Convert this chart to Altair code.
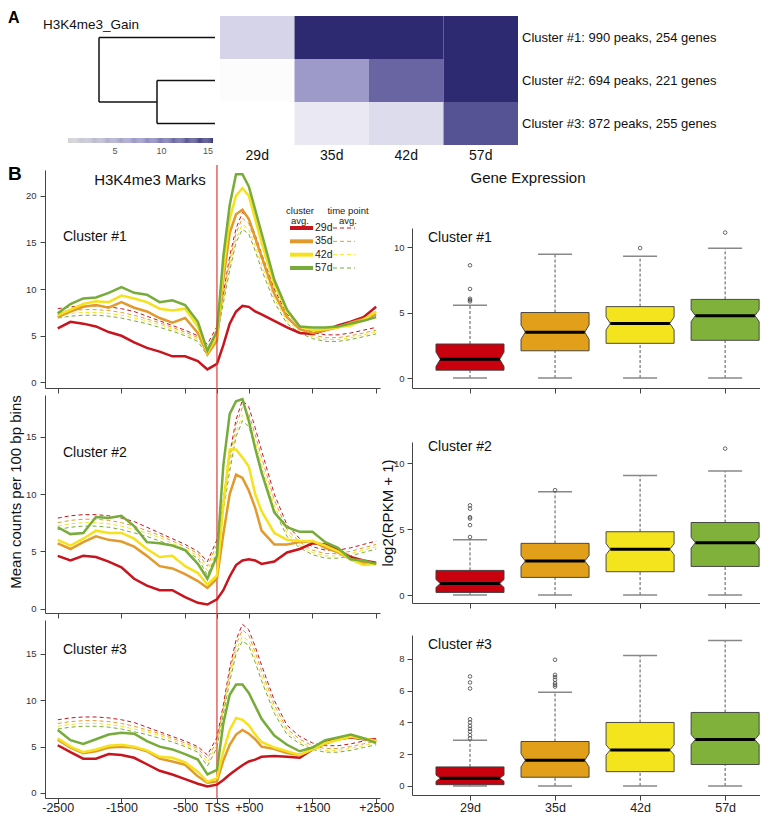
import altair as alt
import numpy as np
import pandas as pd

W, H = 752, 806
FONT = "Liberation Sans"

# ---------------- shared categories / colours ----------------
TIME_POINTS = ["29d", "35d", "42d", "57d"]
LINE_COLORS = ["#c8141c", "#e39a2d", "#f5e21c", "#77ab3a"]
BOX_COLORS = ["#c9000e", "#e2a01a", "#f4e41e", "#80b23b"]

# ---------------- panel A ----------------
CLUSTERS = ["Cluster #1", "Cluster #2", "Cluster #3"]
CLUSTER_INFO = ["Cluster #1: 990 peaks, 254 genes",
                "Cluster #2: 694 peaks, 221 genes",
                "Cluster #3: 872 peaks, 255 genes"]
HEAT_29D = [3.0, 0.2, 0.0]
HEAT_35D = [15.6, 7.0, 1.6]
HEAT_42D = [15.6, 11.0, 2.4]
HEAT_57D = [15.6, 15.6, 12.4]
COLORBAR_TICKS = [5, 10, 15]

# dendrogram segments: merge height (h1 -> h2), cluster index (y1 -> y2)
DENDRO_H1 = [0, 2, 2, 1, 0, 0]
DENDRO_H2 = [2, 2, 1, 1, 1, 1]
DENDRO_Y1 = [0, 0, 1.5, 1, 1, 2]
DENDRO_Y2 = [0, 1.5, 1.5, 2, 1, 2]

# ---------------- panel B: profiles ----------------
BP = [-2500, -2300, -2100, -1900, -1700, -1500, -1300, -1100, -900, -700, -500, -300, -150, 0,
      100, 200, 300, 400, 500, 600, 700, 900, 1100, 1300, 1500, 1700, 1900, 2100, 2300, 2500]
XTICK_VALUES = [-2500, -1500, -500, 0, 500, 1500, 2500]
XTICK_TEXT = ["-2500", "-1500", "-500", "TSS", "+500", "+1500", "+2500"]

# time point averages (dashed, same in every cluster panel)
TP_29D = [7.9, 8.1, 8.2, 8.2, 8.1, 7.9, 7.6, 7.1, 6.6, 6.1, 5.6, 5.0, 4.1, 6.0, 9.5, 13.5, 16.5, 18.2, 17.6, 15.8, 13.8, 10.0, 7.3, 6.1, 5.4, 5.1, 5.1, 5.3, 5.6, 5.9]
TP_35D = [7.5, 7.7, 7.8, 7.8, 7.7, 7.5, 7.2, 6.8, 6.4, 5.9, 5.4, 4.8, 3.7, 5.6, 9.2, 13.0, 16.0, 17.6, 17.0, 15.2, 13.2, 9.5, 6.9, 5.8, 5.1, 4.8, 4.8, 5.0, 5.3, 5.6]
TP_42D = [7.2, 7.4, 7.5, 7.5, 7.4, 7.2, 6.9, 6.6, 6.2, 5.7, 5.2, 4.6, 3.3, 5.2, 8.8, 12.5, 15.4, 16.9, 16.4, 14.6, 12.6, 9.0, 6.6, 5.5, 4.9, 4.6, 4.6, 4.8, 5.1, 5.4]
TP_57D = [6.9, 7.1, 7.2, 7.2, 7.1, 6.9, 6.6, 6.3, 5.9, 5.5, 5.0, 4.4, 2.9, 4.9, 8.5, 12.0, 15.0, 16.4, 15.9, 14.1, 12.1, 8.6, 6.3, 5.3, 4.7, 4.4, 4.4, 4.6, 4.9, 5.2]

# cluster averages (solid)
C1_29D = [5.8, 6.5, 6.3, 6.0, 5.4, 5.0, 4.3, 3.7, 3.3, 2.8, 2.8, 2.3, 1.4, 2.0, 4.0, 6.3, 7.6, 8.2, 8.1, 7.6, 7.3, 6.6, 5.9, 5.3, 5.2, 5.6, 6.1, 6.5, 7.0, 8.1]
C1_35D = [7.0, 7.6, 8.1, 8.3, 8.0, 8.6, 8.0, 7.6, 6.9, 6.4, 6.9, 5.3, 3.0, 4.5, 11.0, 16.0, 18.0, 18.5, 17.5, 15.5, 13.5, 9.5, 7.0, 5.7, 5.3, 5.6, 5.9, 6.4, 6.8, 7.3]
C1_42D = [7.2, 7.8, 8.4, 8.7, 8.6, 9.3, 9.0, 8.6, 7.9, 7.7, 7.9, 6.0, 3.2, 5.0, 12.0, 17.5, 20.0, 20.8, 20.0, 17.5, 15.0, 10.5, 7.6, 6.0, 5.6, 5.7, 5.9, 6.1, 6.7, 7.6]
C1_57D = [7.4, 8.4, 9.0, 9.1, 9.6, 10.2, 9.6, 9.4, 8.6, 8.8, 8.3, 6.5, 3.4, 5.5, 13.5, 19.0, 22.3, 22.3, 21.0, 18.5, 16.0, 11.0, 7.8, 6.0, 5.9, 5.9, 6.0, 6.3, 6.6, 7.0]

C2_29D = [4.6, 4.2, 4.6, 4.5, 4.1, 3.6, 2.6, 2.0, 1.6, 1.6, 1.0, 0.5, 0.35, 0.8, 1.6, 2.8, 3.8, 4.2, 4.3, 4.2, 3.9, 4.1, 4.9, 5.2, 5.7, 5.6, 5.1, 4.5, 4.2, 4.0]
C2_35D = [5.7, 5.2, 5.8, 6.3, 6.0, 5.85, 5.4, 4.6, 3.7, 3.5, 3.0, 2.4, 1.8, 2.6, 6.5, 10.0, 11.7, 11.4, 10.3, 8.8, 6.8, 5.6, 5.6, 5.8, 5.9, 5.3, 4.9, 4.3, 4.0, 3.9]
C2_42D = [6.0, 5.5, 6.1, 6.8, 6.6, 6.6, 6.1, 5.2, 4.5, 4.6, 3.7, 3.1, 2.1, 2.9, 9.0, 13.9, 13.9, 13.2, 12.4, 10.0, 8.5, 6.6, 6.0, 5.9, 5.9, 5.5, 5.0, 4.3, 3.8, 3.9]
C2_57D = [7.1, 6.5, 6.6, 8.0, 7.9, 8.1, 7.2, 5.8, 5.7, 5.5, 5.1, 3.9, 2.6, 4.6, 12.5, 17.0, 18.1, 18.3, 16.4, 14.0, 11.9, 8.4, 7.1, 6.7, 6.7, 5.8, 5.3, 4.3, 4.2, 3.9]

C3_29D = [5.15, 4.4, 3.7, 3.7, 4.2, 4.1, 3.8, 3.1, 2.4, 2.0, 1.5, 1.0, 0.7, 0.9, 1.4, 2.0, 2.5, 3.0, 3.4, 3.6, 3.9, 4.0, 3.9, 3.8, 4.7, 5.5, 5.8, 6.0, 5.8, 5.75]
C3_35D = [5.75, 4.9, 4.3, 4.5, 4.9, 5.0, 4.9, 4.5, 3.7, 3.4, 3.05, 1.8, 1.1, 1.25, 3.5, 5.2, 6.3, 6.8, 6.4, 5.8, 5.0, 4.75, 4.3, 4.1, 4.7, 5.3, 5.8, 6.1, 5.8, 5.6]
C3_42D = [5.9, 5.0, 4.4, 4.7, 5.1, 5.2, 5.0, 4.6, 3.9, 3.8, 3.3, 2.3, 1.2, 1.6, 4.5, 6.8, 8.1, 7.9, 7.3, 6.3, 5.5, 4.9, 4.5, 4.1, 4.7, 5.4, 5.7, 6.1, 5.9, 5.6]
C3_57D = [6.8, 5.7, 5.3, 5.8, 6.3, 6.5, 6.4, 5.6, 5.0, 4.7, 4.2, 3.6, 2.0, 2.5, 7.5, 10.6, 11.7, 11.7, 10.8, 9.4, 8.0, 6.2, 5.2, 4.5, 4.9, 5.7, 6.0, 6.3, 5.9, 5.4]

# ---------------- panel B: gene expression boxes ----------------
C1_LO = [0, 0, 0, 0]
C1_Q1 = [0.6, 2.08, 2.65, 2.88]
C1_MED = [1.43, 3.5, 4.17, 4.76]
C1_Q3 = [2.6, 5.0, 5.45, 6.0]
C1_HI = [5.55, 9.45, 9.3, 9.9]
C1_NOTCH = [0.55, 0.55, 0.5, 0.45]
C1_OUT_TP = ["29d", "29d", "29d", "29d", "29d", "42d", "57d"]
C1_OUT_VAL = [5.85, 5.95, 6.05, 6.8, 8.6, 9.92, 11.1]

C2_LO = [0, 0, 0, 0]
C2_Q1 = [0.2, 1.34, 1.77, 2.17]
C2_MED = [0.88, 2.58, 3.48, 3.97]
C2_Q3 = [1.87, 3.92, 4.8, 5.5]
C2_HI = [4.2, 7.83, 9.07, 9.4]
C2_NOTCH = [0.3, 0.42, 0.42, 0.42]
C2_OUT_TP = ["29d", "29d", "29d", "29d", "29d", "29d", "35d", "57d"]
C2_OUT_VAL = [4.4, 5.3, 5.8, 5.9, 6.55, 6.8, 7.95, 11.1]

C3_LO = [0, 0, 0, 0]
C3_Q1 = [0.08, 0.55, 0.9, 1.35]
C3_MED = [0.49, 1.62, 2.27, 2.92]
C3_Q3 = [1.2, 2.8, 4.0, 4.63]
C3_HI = [2.88, 5.91, 8.22, 9.17]
C3_NOTCH = [0.2, 0.42, 0.32, 0.32]
C3_OUT_TP = ["29d"] * 10 + ["35d"] * 7
C3_OUT_VAL = [3.0, 3.2, 3.43, 3.6, 3.78, 4.0, 4.2, 6.14, 6.52, 6.9,
              6.26, 6.37, 6.48, 6.69, 6.86, 7.0, 7.95]


def qs(domain, rng):
    return alt.Scale(domain=domain, range=rng, nice=False, zero=False)


def text(t, x, y, size, **kw):
    return alt.Chart(pd.DataFrame({"t": [t]})).mark_text(font=FONT, fontSize=size, **kw).encode(
        text="t:N", x=alt.value(x), y=alt.value(y))


# ================= Panel A =================
heat_df = pd.DataFrame([
    {"cluster": c, "tp": tp, "value": vals[i]}
    for tp, vals in zip(TIME_POINTS, [HEAT_29D, HEAT_35D, HEAT_42D, HEAT_57D])
    for i, c in enumerate(CLUSTERS)
])
heat_x = alt.X("tp:N", scale=alt.Scale(domain=TIME_POINTS, range=[212, 510], paddingInner=0, paddingOuter=0),
               axis=alt.Axis(orient="bottom", offset=137 - H, domain=False, ticks=False, labelAngle=0,
                             labelFontSize=14, labelPadding=3, labelColor="#111", title=None))
heat_y = alt.Y("cluster:N", scale=alt.Scale(domain=CLUSTERS, range=[8, 137], paddingInner=0, paddingOuter=0),
               axis=None)
heat = alt.Chart(heat_df).mark_rect().encode(
    x=heat_x, y=heat_y,
    color=alt.Color("value:Q", scale=alt.Scale(domain=[0, 8, 15.6], range=["#ffffff", "#8f8bc2", "#2d2a72"],
                                               interpolate="rgb", clamp=True), legend=None))
info = alt.Chart(pd.DataFrame({"cluster": CLUSTERS, "info": CLUSTER_INFO})).mark_text(
    align="left", baseline="middle", font=FONT, fontSize=13, color="#111").encode(
    y=heat_y, x=alt.value(514), text="info:N")
panel_a = alt.layer(heat, info)

dendro_df = pd.DataFrame({"h1": DENDRO_H1, "h2": DENDRO_H2, "y1": DENDRO_Y1, "y2": DENDRO_Y2})
dendro = alt.Chart(dendro_df).mark_rule(color="#111", strokeWidth=1.5).encode(
    x=alt.X("h1:Q", scale=qs([0, 2], [207, 91]), axis=None), x2="h2:Q",
    y=alt.Y("y1:Q", scale=qs([-0.5, 2.5], [8, 137]), axis=None), y2="y2:Q")

ramp = np.round(np.arange(0, 15.6, 0.1), 2)
cbar_df = pd.DataFrame({"v": ramp, "v2": ramp + 0.1})
colorbar = alt.Chart(cbar_df).mark_rect().encode(
    x=alt.X("v:Q", scale=qs([0, 15.6], [60, 205]),
            axis=alt.Axis(orient="bottom", offset=135 - H, values=COLORBAR_TICKS, domain=False, ticks=False,
                          labelFontSize=9, labelColor="#555", labelPadding=3, labelFlush=False, title=None)),
    x2="v2:Q", y=alt.value(130), y2=alt.value(135),
    color=alt.Color("v:Q", scale=alt.Scale(domain=[0, 8, 15.6], range=["#cfcfd3", "#8f8bc2", "#2d2a72"],
                                           interpolate="rgb"), legend=None))

# ================= Panel B: profiles =================
x_label_expr = "[" + ",".join("'%s'" % t for t in XTICK_TEXT) + "][indexof([" + \
    ",".join(str(v) for v in XTICK_VALUES) + "], datum.value)]"
tp_avg = [TP_29D, TP_35D, TP_42D, TP_57D]


def long_df(series):
    return pd.DataFrame([{"bp": b, "value": v, "tp": tp}
                         for tp, vals in zip(TIME_POINTS, series) for b, v in zip(BP, vals)])


def line_panel(series, y_dom, y_rng, y_ticks, show_labels, with_tss=False):
    x = alt.X("bp:Q", scale=qs([-2700, 2560], [37, 372]),
              axis=alt.Axis(orient="bottom", offset=y_rng[0] - H, values=XTICK_VALUES, labels=show_labels,
                            labelExpr=x_label_expr, tickSize=5, tickColor="#444", domainColor="#444",
                            labelFontSize=12.5, labelColor="#222", labelPadding=8,
                            labelBaseline="alphabetic", labelFlush=False, title=None, grid=False))
    y = alt.Y("value:Q", scale=qs(y_dom, y_rng),
              axis=alt.Axis(orient="left", offset=-37, values=y_ticks, tickSize=5, labelPadding=4,
                            labelFontSize=9.5, labelColor="#333", domainColor="#444", tickColor="#444",
                            title=None, grid=False))
    color = alt.Color("tp:N", scale=alt.Scale(domain=TIME_POINTS, range=LINE_COLORS), legend=None)
    dashed = alt.Chart(long_df(tp_avg)).mark_line(strokeWidth=1, strokeDash=[4, 3]).encode(
        x=x, y=y, color=color)
    solid = alt.Chart(long_df(series)).mark_line(strokeWidth=2.5).encode(x=x, y=y, color=color)
    layers = [dashed, solid]
    if with_tss:
        tss = alt.Chart(pd.DataFrame({"bp": [0]})).mark_rule(color="#d83c3c", strokeWidth=1.2).encode(
            x=x, y=alt.value(157), y2=alt.value(790))
        layers.append(tss)
    return alt.layer(*layers)


line1 = line_panel([C1_29D, C1_35D, C1_42D, C1_57D], [-0.59, 22.75], [380, 162], [0, 5, 10, 15, 20], False, True)
line2 = line_panel([C2_29D, C2_35D, C2_42D, C2_57D], [-0.39, 18.65], [605, 387], [0, 5, 10, 15], False)
line3 = line_panel([C3_29D, C3_35D, C3_42D, C3_57D], [-0.54, 18.66], [790, 612], [0, 5, 10, 15], True)

# legend inside cluster 1 profile
leg_y = alt.Y("tp:N", scale=alt.Scale(type="point", domain=TIME_POINTS, range=[220, 260], padding=0), axis=None)
leg_color = alt.Color("tp:N", scale=alt.Scale(domain=TIME_POINTS, range=LINE_COLORS), legend=None)
leg_df = pd.DataFrame({"tp": TIME_POINTS})
legend = alt.layer(
    alt.Chart(leg_df).mark_rule(strokeWidth=4).encode(x=alt.value(282), x2=alt.value(305), y=leg_y, color=leg_color),
    alt.Chart(leg_df).mark_rule(strokeWidth=1, strokeDash=[4, 3]).encode(
        x=alt.value(325), x2=alt.value(347), y=leg_y, color=leg_color),
    alt.Chart(leg_df).mark_text(align="left", baseline="middle", font=FONT, fontSize=10.5, color="#222").encode(
        x=alt.value(307), y=leg_y, text="tp:N"),
)

# ================= Panel B: boxes =================
box_label_expr = "[" + ",".join("'%s'" % t for t in TIME_POINTS) + "][datum.value - 1]"
BOX_HALF, NOTCH_HALF, CAP_HALF = 0.4, 0.35, 0.2


def box_panel(lo, q1, med, q3, hi, notch, out_tp, out_val, y_dom, y_rng, y_ticks, show_labels):
    xs = qs([0.318, 4.41], [404, 752])
    ys = qs(y_dom, y_rng)
    xaxis = alt.Axis(orient="bottom", offset=y_rng[0] - H, values=[1, 2, 3, 4], labels=show_labels,
                     labelExpr=box_label_expr, tickSize=5, tickColor="#444", domainColor="#444",
                     labelFontSize=12.5, labelColor="#222", labelPadding=11, labelBaseline="alphabetic",
                     labelFlush=False, title=None, grid=False)
    yaxis = alt.Axis(orient="left", offset=-404, values=y_ticks, tickSize=5, labelPadding=3,
                     labelFontSize=9.5, labelColor="#333", domainColor="#444", tickColor="#444",
                     title=None, grid=False)

    def X(f):
        return alt.X(f, type="quantitative", scale=xs, axis=xaxis)

    def Y(f):
        return alt.Y(f, type="quantitative", scale=ys, axis=yaxis)

    poly, whisk, caps, meds = [], [], [], []
    for i, tp in enumerate(TIME_POINTS):
        p = i + 1
        for yv, hw in [(q1[i], BOX_HALF), (med[i] - notch[i], BOX_HALF), (med[i], NOTCH_HALF),
                       (med[i] + notch[i], BOX_HALF), (q3[i], BOX_HALF)]:
            poly.append({"tp": tp, "y": yv, "xl": p - hw, "xr": p + hw})
        whisk += [{"pos": p, "a": q3[i], "b": hi[i]}, {"pos": p, "a": lo[i], "b": q1[i]}]
        caps += [{"cl": p - CAP_HALF, "cr": p + CAP_HALF, "cap": hi[i]},
                 {"cl": p - CAP_HALF, "cr": p + CAP_HALF, "cap": lo[i]}]
        meds.append({"ml": p - NOTCH_HALF, "mr": p + NOTCH_HALF, "med": med[i]})
    outs = pd.DataFrame({"pos": [TIME_POINTS.index(t) + 1 for t in out_tp], "val": out_val})

    w = alt.Chart(pd.DataFrame(whisk)).mark_rule(color="#555", strokeWidth=1, strokeDash=[3, 2]).encode(
        x=X("pos"), y=Y("a"), y2="b:Q")
    c = alt.Chart(pd.DataFrame(caps)).mark_rule(color="#888", strokeWidth=1.5).encode(
        x=X("cl"), x2="cr:Q", y=Y("cap"))
    b = alt.Chart(pd.DataFrame(poly)).mark_area(orient="horizontal", stroke="#3a3a3a", strokeWidth=0.9,
                                                 opacity=1).encode(
        y=Y("y"), x=X("xl"), x2="xr:Q", detail="tp:N",
        color=alt.Color("tp:N", scale=alt.Scale(domain=TIME_POINTS, range=BOX_COLORS), legend=None))
    m = alt.Chart(pd.DataFrame(meds)).mark_rule(color="#000", strokeWidth=3).encode(
        x=X("ml"), x2="mr:Q", y=Y("med"))
    o = alt.Chart(outs).mark_point(shape="circle", filled=False, size=13, color="#444", strokeWidth=0.8,
                                   opacity=1).encode(x=X("pos"), y=Y("val"))
    return alt.layer(w, c, b, m, o)


box1 = box_panel(C1_LO, C1_Q1, C1_MED, C1_Q3, C1_HI, C1_NOTCH, C1_OUT_TP, C1_OUT_VAL,
                 [-0.76, 11.45], [380, 220], [0, 5, 10], False)
box2 = box_panel(C2_LO, C2_Q1, C2_MED, C2_Q3, C2_HI, C2_NOTCH, C2_OUT_TP, C2_OUT_VAL,
                 [-0.6, 11.6], [595, 434], [0, 5, 10], False)
box3 = box_panel(C3_LO, C3_Q1, C3_MED, C3_Q3, C3_HI, C3_NOTCH, C3_OUT_TP, C3_OUT_VAL,
                 [-0.57, 9.51], [787, 627], [0, 2, 4, 6, 8], True)

# ================= text annotations =================
texts = [
    text("A", 0, 15, 16, fontWeight="bold", align="left", baseline="alphabetic", color="#000"),
    text("H3K4me3_Gain", 35, 17, 13.5, align="left", baseline="middle", color="#111"),
    text("B", 0, 172, 19, fontWeight="bold", align="left", baseline="alphabetic", color="#000"),
    text("H3K4me3 Marks", 142, 172, 15, align="center", baseline="middle", color="#111"),
    text("Gene Expression", 520, 170, 15, align="center", baseline="middle", color="#111"),
    text("cluster", 292, 203, 9.5, align="center", baseline="middle", color="#222"),
    text("avg.", 292, 213, 9.5, align="center", baseline="middle", color="#222"),
    text("time point", 340, 203, 9.5, align="center", baseline="middle", color="#222"),
    text("avg.", 340, 213, 9.5, align="center", baseline="middle", color="#222"),
    text("Cluster #1", 55, 229, 14, align="left", baseline="middle", color="#111"),
    text("Cluster #2", 55, 445, 14, align="left", baseline="middle", color="#111"),
    text("Cluster #3", 55, 642, 14, align="left", baseline="middle", color="#111"),
    text("Cluster #1", 420, 230, 14, align="left", baseline="middle", color="#111"),
    text("Cluster #2", 420, 439, 14, align="left", baseline="middle", color="#111"),
    text("Cluster #3", 420, 637, 14, align="left", baseline="middle", color="#111"),
    text("Mean counts per 100 bp bins", 8, 484, 15, angle=270, align="center", baseline="middle", color="#111"),
    text("log2(RPKM + 1)", 380, 505, 15, angle=270, align="center", baseline="middle", color="#111"),
]

chart = alt.layer(
    panel_a, dendro, colorbar, line1, line2, line3, legend, box1, box2, box3, *texts
).resolve_scale(
    x="independent", y="independent", color="independent"
).resolve_axis(
    x="independent", y="independent"
).properties(
    width=W, height=H, autosize=alt.AutoSizeParams(type="none"), padding=0, background="white"
).configure_view(stroke=None).configure_axis(labelFont=FONT, grid=False)

chart.save("out.html", embed_options={"renderer": "svg", "actions": False})
